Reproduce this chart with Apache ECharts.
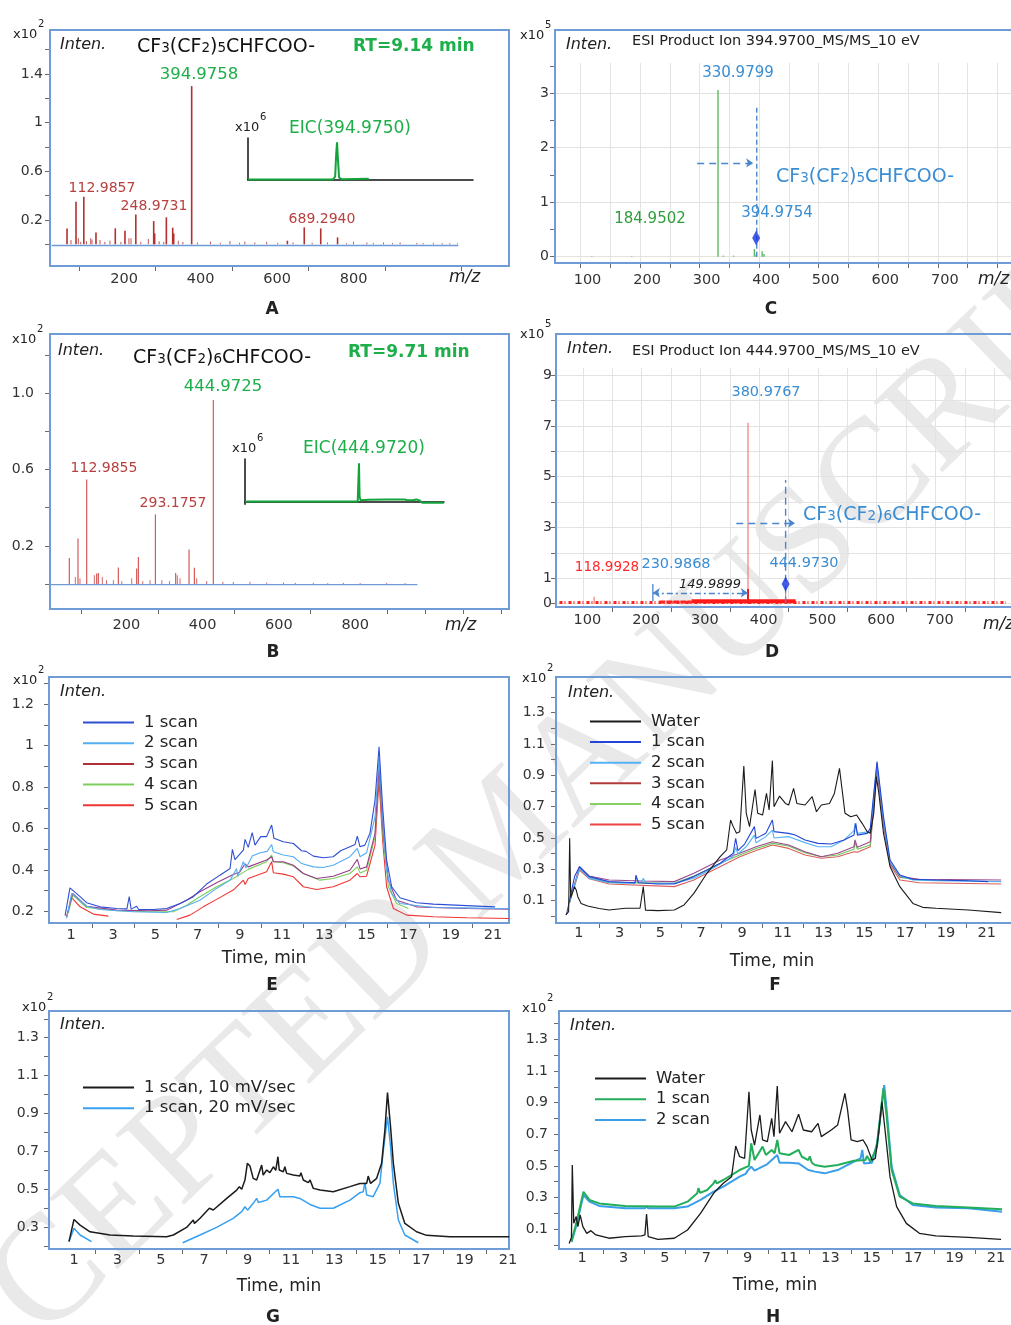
<!DOCTYPE html>
<html><head><meta charset="utf-8">
<script src="https://cdn.jsdelivr.net/npm/echarts@6/dist/echarts.min.js"></script>
<style>html,body{margin:0;padding:0;background:#fff}#c{width:1011px;height:1325px}</style>
</head><body><div id="c"></div>
<script>
// ---------------- DATA ----------------
// Panel A (MS spectrum, RT 9.14)
const aPeakMz  = [69.1, 92.6, 112.99, 144.8, 195.3, 220.6, 248.97, 295.7, 298.2, 328.8, 345.4, 348.0, 394.98, 645.2, 689.29, 732.4, 776.4];
const aPeakInt = [0.131, 0.35, 0.391, 0.098, 0.131, 0.112, 0.246, 0.191, 0.09, 0.222, 0.137, 0.09, 1.30, 0.03, 0.139, 0.131, 0.057];
const aNoiseMz  = [79.5, 98.7, 105, 120, 131, 134.4, 155.3, 168, 181.4, 210, 231, 236.4, 262, 281.6, 310, 322, 360, 372, 410, 444.2, 470, 495, 520, 534, 560, 591, 620, 660, 710, 750, 800, 818, 853, 870, 896.5, 920, 940, 983.7, 1000, 1027, 1050, 1070, 1090];
const aNoiseInt = [0.035, 0.05, 0.02, 0.025, 0.05, 0.04, 0.035, 0.02, 0.03, 0.02, 0.05, 0.05, 0.02, 0.044, 0.025, 0.02, 0.03, 0.02, 0.015, 0.022, 0.012, 0.027, 0.012, 0.022, 0.015, 0.02, 0.012, 0.015, 0.012, 0.015, 0.01, 0.02, 0.015, 0.012, 0.015, 0.01, 0.015, 0.012, 0.01, 0.012, 0.01, 0.01, 0.008];
const aBaseMz = [29, 1092];
const aBaseInt = [-0.009, -0.009];
const aEicTime = [0, 8.7, 8.95, 9.05, 9.14, 9.22, 9.35, 9.6, 12.4];
const aEicInt  = [0.01, 0.01, 0.08, 0.6, 0.9, 0.55, 0.06, 0.02, 0.03];
const aXTicks = [100, 300, 500, 700, 900, 1100];
const aXLabels = [200, 400, 600, 800];
const aYTicks = [0, 0.2, 0.4, 0.6, 0.8, 1, 1.2, 1.4, 1.6];
const aYLabels = [0.2, 0.6, 1, 1.4];

// Panel B (MS spectrum, RT 9.71)
const bPeakMz  = [67.5, 90.2, 112.99, 139.2, 143.5, 196, 244, 248.5, 293.18, 346.3, 381.3, 395.3, 444.97];
const bPeakInt = [0.137, 0.239, 0.548, 0.055, 0.058, 0.086, 0.081, 0.142, 0.365, 0.058, 0.181, 0.085, 0.965];
const bNoiseMz  = [83.2, 95.4, 133.1, 154, 165, 183, 205, 231, 260, 279, 310, 330, 350.7, 357.7, 401.4, 427.6, 470, 497.5, 541, 585, 629, 660, 707.3, 745, 786, 830, 899.6, 947.7];
const bNoiseInt = [0.037, 0.03, 0.046, 0.037, 0.02, 0.02, 0.015, 0.03, 0.015, 0.02, 0.02, 0.015, 0.046, 0.03, 0.03, 0.016, 0.012, 0.011, 0.012, 0.008, 0.008, 0.006, 0.006, 0.005, 0.006, 0.005, 0.006, 0.005];
const bBaseMz = [17, 980];
const bBaseInt = [-0.003, -0.003];
const bEicTime = [0, 9.6, 9.66, 9.71, 9.76, 9.85, 10.5, 12.0, 13.6, 13.8, 14.3, 14.6, 14.9, 15.1, 16.95];
const bEicInt  = [0.01, 0.01, 0.5, 0.9, 0.12, 0.04, 0.05, 0.06, 0.06, 0.04, 0.04, 0.06, 0.03, -0.02, -0.02];
const bXTicks = [100, 300, 500, 700, 900, 1000, 1100, 1200];
const bXLabels = [200, 400, 600, 800];
const bYTicks = [0, 0.2, 0.4, 0.6, 0.8, 1.0, 1.2];
const bYLabels = [0.2, 0.6, 1.0];

// Panel C (product ion 394.97)
const cPeakMz  = [119, 186, 330.98, 340, 357, 392, 395, 405, 408];
const cPeakInt = [0.01, 0.01, 3.06, 0.02, 0.02, 0.14, 0.05, 0.1, 0.05];
const cPrecursor = [[394.98, 0.343]];
const cGuide = [[396, 0], [396, 2.76]];
const cArrow = [[296, 1.72], [389.8, 1.72]];
const cXTicks = [100,150,200,250,300,350,400,450,500,550,600,650,700,750,800];
const cXLabels = [100, 200, 300, 400, 500, 600, 700];
const cYTicks = [0, 0.5, 1, 1.5, 2, 2.5, 3, 3.5];
const cYGrid = [0, 1, 2, 3];
const cYLabels = [0, 1, 2, 3];

// Panel D (product ion 444.97)
const dPeakMz  = [118.99, 380.98, 444.97];
const dPeakInt = [0.27, 7.12, 0.45];
const dBaseStickMz = [380.98];
const dBaseStickInt = [0.58];
const dNoise = [[60, 0.05], [820, 0.05]];
const dNoiseDense = [[230, 0.07], [285, 0.07]];
const dBand = [[285, 0.1], [462, 0.1]];
const dPrecursor = [[444.97, 0.78]];
const dGuide = [[445, 0], [445, 4.87]];
const dArrow = [[361, 3.17], [461, 3.17]];
const dLoss = [[219, 0.43], [380.5, 0.43]];
const dLossTick = [[219, 0.1], [219, 0.78]];
const dXTicks = [150, 250, 350, 450, 550, 650, 750];
const dXGrid = [100,150,200,250,300,350,400,450,500,550,600,650,700,750,800];
const dXLabels = [100, 200, 300, 400, 500, 600, 700];
const dYTicks = [0,1,2,3,4,5,6,7,8,9];
const dYLabels = [0, 1, 3, 5, 7, 9];

// Time axes (E-H)
const timeTicks = [2,4,6,8,10,12,14,16,18,20];
const timeLabels = [1,3,5,7,9,11,13,15,17,19,21];

// Panel E
const eScan1 = [[0.72,0.18],[0.95,0.314],[1.43,0.271],[1.74,0.242],[2.37,0.222],[3.16,0.214],[3.65,0.212],[3.76,0.271],[3.85,0.211],[4.11,0.225],[4.2,0.21],[4.9,0.209],[5.53,0.214],[6.17,0.238],[6.8,0.271],[7.43,0.332],[8.06,0.375],[8.54,0.407],[8.65,0.5],[8.77,0.45],[9.17,0.496],[9.25,0.548],[9.4,0.509],[9.59,0.58],[9.72,0.52],[9.99,0.561],[10.27,0.561],[10.51,0.617],[10.62,0.553],[11.06,0.536],[11.54,0.528],[11.93,0.493],[12.14,0.49],[12.49,0.467],[12.96,0.459],[13.43,0.464],[13.78,0.493],[14.22,0.512],[14.46,0.523],[14.57,0.564],[14.7,0.512],[14.93,0.52],[15.17,0.577],[15.41,0.738],[15.6,0.995],[15.77,0.705],[15.96,0.448],[16.2,0.319],[16.59,0.266],[17.38,0.242],[18.17,0.235],[19.75,0.228],[21.1,0.222]];
const eScan2 = [[0.79,0.166],[1.03,0.287],[1.74,0.225],[2.37,0.209],[3.95,0.198],[5.53,0.195],[6.17,0.214],[7.11,0.254],[7.9,0.311],[8.54,0.351],[8.85,0.407],[8.9,0.37],[9.17,0.44],[9.3,0.41],[9.59,0.467],[9.96,0.483],[10.3,0.49],[10.51,0.523],[10.59,0.488],[11.06,0.472],[11.54,0.464],[11.93,0.431],[12.49,0.415],[12.96,0.412],[13.43,0.423],[14.22,0.464],[14.57,0.504],[14.7,0.464],[15.01,0.483],[15.41,0.657],[15.6,0.939],[15.77,0.657],[15.96,0.399],[16.2,0.287],[16.59,0.238],[18.17,0.219],[19.75,0.217],[21.77,0.213]];
const eScan3 = [[0.79,0.174],[1.08,0.287],[1.74,0.225],[3.16,0.206],[4.74,0.203],[5.53,0.206],[6.48,0.254],[7.11,0.295],[7.9,0.338],[8.69,0.378],[9.0,0.39],[9.25,0.43],[9.4,0.415],[10.27,0.448],[10.51,0.464],[10.59,0.44],[11.06,0.44],[11.54,0.423],[12.01,0.383],[12.64,0.359],[13.43,0.37],[14.22,0.399],[14.57,0.451],[14.7,0.405],[15.01,0.415],[15.41,0.577],[15.6,0.899],[15.8,0.577],[16.04,0.351],[16.43,0.254],[17.38,0.222],[19.75,0.214],[21.77,0.211]];
const eScan4 = [[0.87,0.19],[1.08,0.279],[1.74,0.219],[3.16,0.203],[4.74,0.198],[5.85,0.198],[6.48,0.23],[7.11,0.271],[7.9,0.319],[8.69,0.359],[9.4,0.403],[10.27,0.44],[10.51,0.472],[10.59,0.44],[11.06,0.435],[11.54,0.419],[12.01,0.383],[12.8,0.351],[13.43,0.359],[14.22,0.383],[14.57,0.415],[14.7,0.386],[15.01,0.399],[15.41,0.56],[15.6,0.899],[15.8,0.544],[16.04,0.319],[16.43,0.238],[16.99,0.214]];
const eScan5 = [[0.79,0.174],[1.03,0.267],[1.43,0.222],[2.06,0.187],[2.77,0.177],[4.4,'-'],[6.01,0.161],[6.64,0.182],[7.27,0.222],[7.9,0.258],[8.69,0.303],[9.17,0.351],[9.25,0.33],[9.4,0.359],[10.27,0.391],[10.51,0.44],[10.59,0.387],[11.06,0.38],[11.54,0.367],[12.01,0.319],[12.64,0.306],[13.43,0.319],[14.22,0.351],[14.57,0.383],[14.7,0.367],[15.01,0.37],[15.41,0.52],[15.6,0.834],[15.77,0.544],[15.96,0.319],[16.28,0.214],[16.91,0.182],[18.17,0.174],[19.75,0.169],[21.77,0.166]];
const eYTicks = [0.2,0.3,0.4,0.5,0.6,0.7,0.8,0.9,1.0,1.1,1.2,1.3];
const eYLabels = [0.2, 0.4, 0.6, 0.8, 1, 1.2];

// Panel F
const fWater = [[0.36,0.01],[0.5,0.03],[0.55,0.498],[0.6,0.12],[0.79,0.19],[0.87,0.169],[0.95,0.126],[1.11,0.083],[1.43,0.066],[2.0,0.051],[2.48,0.041],[3.28,0.052],[4.0,0.052],[4.08,0.06],[4.16,0.19],[4.27,0.04],[4.88,0.037],[5.68,0.041],[6.16,0.073],[6.64,0.147],[7.28,0.275],[7.93,0.381],[8.25,0.424],[8.44,0.615],[8.57,0.573],[8.73,0.53],[8.89,0.54],[9.09,0.959],[9.21,0.658],[9.37,0.573],[9.64,0.81],[9.77,0.658],[10.01,0.647],[10.2,0.785],[10.33,0.679],[10.49,0.994],[10.57,0.7],[10.84,0.768],[11.13,0.721],[11.29,0.711],[11.53,0.817],[11.69,0.721],[12.09,0.711],[12.44,0.764],[12.65,0.668],[12.89,0.711],[13.29,0.721],[13.53,0.785],[13.78,0.945],[13.89,0.828],[14.05,0.658],[14.33,0.636],[14.62,0.647],[14.89,0.594],[15.14,0.54],[15.29,0.53],[15.46,0.658],[15.59,0.892],[15.71,0.785],[15.94,0.53],[16.26,0.317],[16.74,0.19],[17.38,0.083],[17.86,0.058],[18.5,0.052],[20.1,0.041],[21.71,0.024]];
const fScan1 = [[0.39,0.009],[0.55,0.105],[0.79,0.254],[1.03,0.317],[1.51,0.254],[2.48,0.222],[3.76,0.215],[3.8,0.264],[3.92,0.215],[4.88,0.207],[5.68,0.207],[6.64,0.254],[7.28,0.296],[7.93,0.339],[8.57,0.403],[8.69,0.498],[8.8,0.42],[9.13,0.462],[9.21,0.471],[9.61,0.573],[9.69,0.498],[10.17,0.53],[10.49,0.615],[10.57,0.541],[11.29,0.53],[11.61,0.519],[12.09,0.488],[12.73,0.466],[13.37,0.462],[14.01,0.488],[14.49,0.519],[14.58,0.594],[14.66,0.519],[15.14,0.53],[15.29,0.562],[15.62,0.988],[15.94,0.636],[16.26,0.36],[16.74,0.264],[17.38,0.237],[18.5,0.232],[20.1,0.228],[21.07,0.222]];
const fScan2 = [[0.55,0.094],[1.03,0.307],[1.51,0.243],[2.48,0.215],[3.76,0.21],[3.8,0.254],[3.92,0.215],[4.08,0.22],[4.16,0.243],[4.3,0.212],[4.88,0.211],[5.68,0.211],[6.64,0.243],[7.28,0.286],[7.93,0.334],[8.57,0.381],[8.69,0.44],[8.8,0.4],[9.21,0.445],[9.61,0.519],[9.69,0.47],[10.17,0.509],[10.49,0.551],[10.57,0.5],[11.29,0.509],[12.09,0.471],[12.73,0.445],[13.37,0.445],[14.01,0.488],[14.49,0.547],[14.54,0.594],[14.66,0.53],[15.29,0.541],[15.62,0.977],[15.94,0.615],[16.26,0.349],[16.74,0.258],[17.38,0.232],[18.5,0.228],[21.71,0.222]];
const fScan3 = [[0.55,0.094],[1.03,0.317],[1.51,0.258],[2.48,0.232],[4.08,0.226],[5.68,0.222],[6.64,0.275],[7.28,0.317],[7.93,0.36],[8.89,0.403],[9.69,0.445],[10.49,0.477],[11.29,0.456],[12.09,0.413],[12.89,0.381],[13.69,0.403],[14.49,0.445],[14.54,0.488],[14.66,0.441],[15.29,0.477],[15.62,0.956],[15.94,0.594],[16.26,0.339],[16.74,0.254],[17.7,0.237],[21.71,0.232]];
const fScan4 = [[0.55,0.09],[1.03,0.307],[1.51,0.25],[2.48,0.217],[5.68,0.211],[6.64,0.258],[7.28,0.296],[8.09,0.349],[8.89,0.392],[9.69,0.434],[10.49,0.466],[11.29,0.449],[12.09,0.407],[12.89,0.381],[13.69,0.392],[14.49,0.428],[14.54,0.471],[14.66,0.428],[15.29,0.456],[15.62,0.956],[15.94,0.594],[16.26,0.339],[16.74,0.249],[17.7,0.232],[20.1,0.228]];
const fScan5 = [[0.55,0.09],[1.03,0.296],[1.51,0.24],[2.48,0.207],[5.68,0.19],[6.64,0.232],[7.28,0.275],[8.09,0.328],[8.89,0.381],[9.69,0.42],[10.49,0.456],[11.29,0.434],[12.09,0.392],[12.89,0.371],[13.69,0.381],[14.49,0.413],[14.66,0.41],[15.29,0.445],[15.62,0.945],[15.94,0.583],[16.26,0.328],[16.74,0.232],[17.7,0.215],[21.71,0.207]];
const fYTicks = [0,0.1,0.2,0.3,0.4,0.5,0.6,0.7,0.8,0.9,1.0,1.1,1.2,1.3,1.4];
const fYLabels = [0.1, 0.3, 0.5, 0.7, 0.9, 1.1, 1.3];

// Panel G
const gSlow = [[0.77,0.224],[1.0,0.341],[1.28,0.311],[1.74,0.276],[2.66,0.259],[3.73,0.253],[5.27,0.25],[5.58,0.259],[6.19,0.299],[6.5,0.338],[6.55,0.32],[6.81,0.347],[7.24,0.4],[7.42,0.391],[8.04,0.452],[8.5,0.496],[8.62,0.514],[8.73,0.5],[8.88,0.549],[8.99,0.637],[9.11,0.623],[9.26,0.558],[9.42,0.549],[9.65,0.628],[9.72,0.575],[9.88,0.602],[10.03,0.588],[10.19,0.619],[10.3,0.6],[10.4,0.672],[10.46,0.602],[10.65,0.593],[10.72,0.619],[10.8,0.584],[11.11,0.575],[11.41,0.57],[11.46,0.588],[11.57,0.549],[11.8,0.535],[11.88,0.549],[12.03,0.505],[12.34,0.496],[12.95,0.487],[13.72,0.514],[14.18,0.531],[14.49,0.531],[14.56,0.57],[14.67,0.531],[14.95,0.558],[15.18,0.637],[15.33,0.813],[15.45,1.01],[15.59,0.831],[15.72,0.637],[15.95,0.426],[16.25,0.32],[16.79,0.276],[17.25,0.257],[18.33,0.25],[21.06,0.25]];
const gFast = [[0.77,0.224],[1.0,0.294],[1.28,0.259],[1.81,0.224],[3.9,'-'],[6.01,0.218],[6.81,0.259],[7.57,0.299],[8.34,0.347],[8.73,0.382],[8.88,0.408],[9.0,0.39],[9.26,0.426],[9.42,0.452],[9.5,0.43],[9.88,0.443],[10.4,0.5],[10.49,0.461],[11.11,0.461],[11.41,0.452],[11.88,0.42],[12.34,0.4],[12.95,0.4],[13.72,0.443],[14.18,0.482],[14.33,0.487],[14.41,0.535],[14.49,0.47],[14.79,0.461],[15.1,0.531],[15.26,0.707],[15.45,0.883],[15.59,0.725],[15.72,0.531],[15.95,0.338],[16.25,0.259],[16.87,0.218]];
const gYTicks = [0.2,0.3,0.4,0.5,0.6,0.7,0.8,0.9,1.0,1.1,1.2,1.3,1.4];
const gYLabels = [0.3, 0.5, 0.7, 0.9, 1.1, 1.3];

// Panel H
const hWater = [[0.37,0.01],[0.48,0.05],[0.52,0.506],[0.59,0.138],[0.71,0.18],[0.79,0.116],[0.9,0.19],[1.03,0.116],[1.22,0.074],[1.42,0.091],[1.66,0.064],[2.29,0.043],[3.08,0.053],[3.87,0.058],[4.03,0.064],[4.11,0.196],[4.19,0.053],[4.66,0.036],[5.45,0.043],[6.09,0.095],[6.72,0.2],[7.35,0.327],[7.82,0.39],[8.22,0.432],[8.42,0.626],[8.61,0.558],[8.85,0.548],[9.06,0.969],[9.17,0.727],[9.33,0.632],[9.59,0.822],[9.72,0.664],[9.95,0.653],[10.16,0.8],[10.27,0.685],[10.43,1.005],[10.54,0.706],[10.83,0.78],[11.14,0.716],[11.46,0.827],[11.69,0.727],[12.09,0.716],[12.4,0.769],[12.56,0.685],[13.04,0.727],[13.35,0.759],[13.7,0.959],[13.83,0.853],[14.0,0.664],[14.3,0.653],[14.58,0.664],[14.77,0.622],[15.01,0.537],[15.17,0.548],[15.33,0.706],[15.49,0.906],[15.64,0.727],[15.88,0.432],[16.2,0.243],[16.67,0.137],[17.3,0.074],[18.09,0.058],[19.67,0.049],[21.25,0.036]];
const hScan1 = [[0.48,0.022],[0.71,0.137],[1.06,0.337],[1.35,0.285],[1.82,0.263],[3.08,0.247],[4.66,0.243],[5.45,0.243],[6.09,0.274],[6.56,0.327],[6.62,0.36],[6.7,0.33],[7.04,0.348],[7.35,0.39],[7.43,0.41],[7.5,0.39],[7.82,0.411],[8.61,0.474],[9.06,0.5],[9.17,0.643],[9.33,0.537],[9.72,0.622],[9.88,0.569],[10.16,0.601],[10.3,0.58],[10.43,0.664],[10.54,0.58],[11.0,0.569],[11.46,0.601],[11.62,0.558],[11.93,0.537],[12.0,0.56],[12.1,0.52],[12.25,0.506],[12.72,0.495],[13.35,0.506],[14.14,0.533],[14.69,0.537],[14.77,0.563],[14.93,0.527],[15.25,0.622],[15.56,0.99],[15.72,0.811],[15.96,0.474],[16.35,0.306],[16.98,0.263],[18.09,0.247],[19.67,0.238],[21.3,0.226]];
const hScan2 = [[0.48,0.02],[0.71,0.12],[1.06,0.316],[1.35,0.274],[1.82,0.247],[3.08,0.232],[4.03,0.232],[4.11,0.247],[4.19,0.232],[5.45,0.232],[6.09,0.243],[6.72,0.285],[7.35,0.337],[7.82,0.369],[8.61,0.432],[8.9,0.45],[9.0,0.47],[9.17,0.495],[9.33,0.47],[9.95,0.512],[10.43,0.569],[10.54,0.52],[11.0,0.52],[11.46,0.516],[11.93,0.474],[12.25,0.464],[12.72,0.453],[13.35,0.474],[14.14,0.527],[14.46,0.548],[14.54,0.601],[14.62,0.516],[15.01,0.52],[15.25,0.643],[15.6,1.011],[15.72,0.853],[15.96,0.495],[16.35,0.316],[16.98,0.253],[18.09,0.238],[19.67,0.232],[21.3,0.211]];
const hYTicks = [0,0.1,0.2,0.3,0.4,0.5,0.6,0.7,0.8,0.9,1.0,1.1,1.2,1.3,1.4];
const hYLabels = [0.1, 0.3, 0.5, 0.7, 0.9, 1.1, 1.3];

// ---------------- HELPERS ----------------
const FONT = '"DejaVu Sans", Verdana, sans-serif';
const FRAME = '#6F9BD6';
const TICK = '#6a6a6a';
const GREEN = '#1DAF4A';
const BLUE_T = '#3A8DD3';
function zip(xs, ys) { return xs.map((x, i) => [x, ys[i]]); }

function mainX(gi, min, max, ticks, labels, pad, margin) {
  return { type: 'value', gridIndex: gi, min, max, position: 'bottom',
    axisLine: { show: false, onZero: false }, splitLine: { show: false },
    axisTick: { show: true, length: 5, lineStyle: { color: TICK }, customValues: ticks },
    axisLabel: { show: true, customValues: labels, margin, padding: [0, 0, 0, pad], fontSize: 14.5, color: '#333', fontFamily: FONT } };
}
function mainY(gi, min, max, ticks, labels, margin, fmt) {
  return { type: 'value', gridIndex: gi, min, max, position: 'left',
    axisLine: { show: false, onZero: false }, splitLine: { show: false },
    axisTick: { show: true, length: 5, lineStyle: { color: TICK }, customValues: ticks },
    axisLabel: { show: true, customValues: labels, margin, fontSize: 14, color: '#333', fontFamily: FONT, formatter: fmt } };
}
function gridAxis(gi, min, max, vals, pos) {
  return { type: 'value', gridIndex: gi, min, max, position: pos,
    axisLine: { show: false, onZero: false }, axisLabel: { show: false },
    axisTick: { show: false, customValues: vals },
    splitLine: { show: true, lineStyle: { color: '#E3E3E3', width: 1 } } };
}
function insetAxis(gi, min, max) {
  return { type: 'value', gridIndex: gi, min, max,
    axisLine: { show: true, lineStyle: { color: '#111', width: 1.5 } },
    axisTick: { show: false }, axisLabel: { show: false }, splitLine: { show: false } };
}
function sticks(xi, yi, data, color, width) {
  return { type: 'custom', xAxisIndex: xi, yAxisIndex: yi, data, silent: true, clip: true,
    encode: { x: 0, y: 1 },
    renderItem: function (params, api) {
      const x = api.value(0), h = api.value(1);
      const p0 = api.coord([x, 0]), p1 = api.coord([x, h]);
      return { type: 'line', shape: { x1: p0[0], y1: p0[1], x2: p1[0], y2: p1[1] },
        style: { stroke: color, lineWidth: width } };
    } };
}
function line(name, xi, yi, data, color, width, type) {
  return { type: 'line', name, xAxisIndex: xi, yAxisIndex: yi, data, symbol: 'none', showSymbol: false,
    silent: true, clip: true, connectNulls: false, smooth: false,
    lineStyle: { color, width, type: type || 'solid' }, itemStyle: { color } };
}
function arrow(xi, yi, coords, color, symbols, dash) {
  return { type: 'lines', coordinateSystem: 'cartesian2d', xAxisIndex: xi, yAxisIndex: yi, silent: true,
    data: [{ coords }], symbol: symbols, symbolSize: 7,
    lineStyle: { color, width: 1.3, type: dash, opacity: 1 } };
}
function T(x, y, text, size, o) {
  o = o || {};
  const font = (o.italic ? 'italic ' : '') + (o.bold ? 'bold ' : '') + size + 'px ' + (o.family || FONT);
  const st = { text, font, fill: o.color || '#222', textAlign: o.align || 'left', align: o.align || 'left',
    textVerticalAlign: 'middle', verticalAlign: 'middle' };
  if (o.rich) st.rich = o.rich;
  return { type: 'text', x, y, silent: true, z: 20, rotation: o.rot || 0, style: st };
}
function formula(x, y, n, color) {
  const sub = { fontSize: 13.5, fontFamily: FONT, fill: color, verticalAlign: 'bottom', padding: [0, 0, 1, 0] };
  return T(x, y, 'CF{s|3}(CF{s|2}){s|' + n + '}CHFCOO-', 19, { color, rich: { s: sub } });
}
function frame(x, y, w, h) {
  return { type: 'rect', silent: true, z: 1, shape: { x, y, width: w, height: h },
    style: { fill: 'none', stroke: FRAME, lineWidth: 2 } };
}
function exp(x, y, e) {
  return [T(x, y, 'x10', 13, { color: '#222' }), T(x + 25, y - 11, e, 10, { color: '#222' })];
}

// ---------------- OPTION ----------------
const grids = [
  { left: 50, top: 30, width: 459, height: 236 },     // 0 A
  { left: 248, top: 138, width: 225, height: 42 },    // 1 A inset
  { left: 50, top: 334, width: 459, height: 275 },    // 2 B
  { left: 245, top: 459, width: 199, height: 45.15 }, // 3 B inset
  { left: 555, top: 63, width: 465, height: 200 },    // 4 C
  { left: 556, top: 368, width: 464, height: 239 },   // 5 D
  { left: 49, top: 677, width: 460, height: 246 },    // 6 E
  { left: 556, top: 677, width: 464, height: 246 },   // 7 F
  { left: 49, top: 1011, width: 460, height: 238 },   // 8 G
  { left: 559, top: 1011, width: 461, height: 238 }   // 9 H
];

const xAxes = [
  mainX(0, 24.6, 1224.6, aXTicks, aXLabels, 14, 6),      // 0
  insetAxis(1, 0, 23.1),                                 // 1
  mainX(2, 16.8, 1220.2, bXTicks, bXLabels, 13, 9),      // 2
  insetAxis(3, 0, 16.95),                                // 3
  mainX(4, 57.2, 822.9, cXTicks, cXLabels, 14, 10),      // 4
  mainX(5, 54.1, 828.7, dXTicks, dXLabels, 9, 6),        // 5
  gridAxis(5, 54.1, 828.7, dXGrid, 'bottom'),            // 6
  mainX(6, -0.043, 21.76, timeTicks, timeLabels, 0, 5),  // 7 E
  mainX(7, -0.12, 22.19, timeTicks, timeLabels, 0, 3),   // 8 F
  mainX(8, -0.152, 21.05, timeTicks, timeLabels, 0, 4),  // 9 G
  mainX(9, -0.123, 21.73, timeTicks, timeLabels, 0, 2)   // 10 H
];
xAxes[4].splitLine = { show: true, lineStyle: { color: '#E3E3E3', width: 1 } };
const oneDec = v => Number(v).toFixed(1);
const yAxes = [
  mainY(0, -0.178, 1.761, aYTicks, aYLabels, 7),         // 0
  insetAxis(1, 0, 1),                                    // 1
  mainY(2, -0.131, 1.311, bYTicks, bYLabels, 16, oneDec),// 2
  insetAxis(3, -0.05, 1),                                // 3
  mainY(4, -0.1156, 3.554, cYTicks, cYLabels, 6),        // 4
  gridAxis(4, -0.1156, 3.554, cYGrid, 'left'),           // 5
  mainY(5, -0.13, 9.28, dYTicks, dYLabels, 4),           // 6
  mainY(6, 0.144, 1.332, eYTicks, eYLabels, 15),         // 7 E
  mainY(7, -0.042, 1.5278, fYTicks, fYLabels, 11, oneDec), // 8 F
  mainY(8, 0.185, 1.441, gYTicks, gYLabels, 10, oneDec), // 9 G
  mainY(9, -0.025, 1.479, hYTicks, hYLabels, 11, oneDec) // 10 H
];
yAxes[6].splitLine = { show: true, lineStyle: { color: '#E3E3E3', width: 1 } };

const C_E = { s1: '#2F4FD3', s2: '#55AEF2', s3: '#9A3C8C', s3leg: '#B0303A', s4: '#7CCF5A', s5: '#F03535' };
const series = [
  // A
  sticks(0, 0, zip(aNoiseMz, aNoiseInt), '#C25450', 1),
  sticks(0, 0, zip(aPeakMz, aPeakInt), '#B3302E', 1.6),
  line('A base', 0, 0, zip(aBaseMz, aBaseInt), '#6E9BD6', 1.4),
  line('A eic', 1, 1, zip(aEicTime, aEicInt), '#13A33B', 2),
  // B
  sticks(2, 2, zip(bNoiseMz, bNoiseInt), '#D46A6A', 1),
  sticks(2, 2, zip(bPeakMz, bPeakInt), '#D45A5A', 1.2),
  line('B base', 2, 2, zip(bBaseMz, bBaseInt), '#6E9BD6', 1.4),
  line('B eic', 3, 3, zip(bEicTime, bEicInt), '#13A33B', 2),
  // C
  sticks(4, 4, zip(cPeakMz, cPeakInt), '#5DBB62', 1.4),
  line('C guide', 4, 4, cGuide, '#4A86CF', 1.4, [5, 3]),
  arrow(4, 4, cArrow, '#4A86CF', ['none', 'arrow'], [7, 5]),
  { type: 'scatter', xAxisIndex: 4, yAxisIndex: 4, data: cPrecursor, symbol: 'diamond', symbolSize: [8, 15],
    itemStyle: { color: '#1533E0' }, silent: true, z: 5 },
  // D
  line('D noise', 5, 6, dNoise, '#FF2424', 3, [3, 2, 1, 3]),
  line('D noise2', 5, 6, dNoiseDense, '#FF2424', 3, [6, 1]),
  line('D band', 5, 6, dBand, '#FF1A1A', 4),
  sticks(5, 6, zip(dPeakMz, dPeakInt), '#F27C7C', 1.2),
  sticks(5, 6, zip(dBaseStickMz, dBaseStickInt), '#E42020', 2),
  line('D guide', 5, 6, dGuide, '#4A86CF', 1.4, [7, 4]),
  arrow(5, 6, dArrow, '#4A86CF', ['none', 'arrow'], [7, 5]),
  arrow(5, 6, dLoss, '#4A86CF', ['arrow', 'arrow'], [6, 3, 2, 3]),
  line('D tick', 5, 6, dLossTick, '#4A86CF', 1.3),
  { type: 'scatter', xAxisIndex: 5, yAxisIndex: 6, data: dPrecursor, symbol: 'diamond', symbolSize: [8, 15],
    itemStyle: { color: '#1533E0' }, silent: true, z: 5 },
  // E
  line('E|5 scan', 7, 7, eScan5, C_E.s5, 1.1),
  line('E|4 scan', 7, 7, eScan4, C_E.s4, 1.1),
  line('E|3 scan', 7, 7, eScan3, C_E.s3, 1.1),
  line('E|2 scan', 7, 7, eScan2, C_E.s2, 1.1),
  line('E|1 scan', 7, 7, eScan1, C_E.s1, 1.1),
  // F
  line('F|5 scan', 8, 8, fScan5, '#D9605A', 1.1),
  line('F|4 scan', 8, 8, fScan4, '#6CC659', 1.1),
  line('F|3 scan', 8, 8, fScan3, '#9B4A8E', 1.1),
  line('F|2 scan', 8, 8, fScan2, '#55B2F4', 1.1),
  line('F|1 scan', 8, 8, fScan1, '#2446D6', 1.1),
  line('F|Water', 8, 8, fWater, '#1B1B1B', 1.1),
  // G
  line('G|1 scan, 20 mV/sec', 9, 9, gFast, '#38A0F0', 1.5),
  line('G|1 scan, 10 mV/sec', 9, 9, gSlow, '#1B1B1B', 1.5),
  // H
  line('H|2 scan', 10, 10, hScan2, '#3A9EEA', 2),
  line('H|1 scan', 10, 10, hScan1, '#22AE5A', 2),
  line('H|Water', 10, 10, hWater, '#1B1B1B', 1.3)
];

function legend(left, top, gap, items) {
  return { show: true, orient: 'vertical', left, top, itemWidth: 51, itemHeight: 2, itemGap: gap,
    icon: 'rect', selectedMode: false, formatter: n => n.split('|')[1],
    textStyle: { fontSize: 16.5, color: '#222', fontFamily: FONT, padding: [0, 0, 0, 5], lineHeight: 16 },
    data: items.map(it => ({ name: it[0], icon: 'rect', itemStyle: { color: it[1] } })) };
}
const legends = [
  legend(78, 709, 3.7, [['E|1 scan', C_E.s1], ['E|2 scan', C_E.s2], ['E|3 scan', C_E.s3leg], ['E|4 scan', C_E.s4], ['E|5 scan', C_E.s5]]),
  legend(585, 708, 3.6, [['F|Water', '#1B1B1B'], ['F|1 scan', '#2446D6'], ['F|2 scan', '#55B2F4'], ['F|3 scan', '#B03A3A'], ['F|4 scan', '#86CF66'], ['F|5 scan', '#EE4444']]),
  legend(78, 1074, 3.7, [['G|1 scan, 10 mV/sec', '#1B1B1B'], ['G|1 scan, 20 mV/sec', '#38A0F0']]),
  legend(590, 1065, 3.7, [['H|Water', '#1B1B1B'], ['H|1 scan', '#22AE5A'], ['H|2 scan', '#3A9EEA']])
];

const graphics = [
  // watermark
  { type: 'text', x: 505, y: 840, rotation: 44 * Math.PI / 180, silent: true, z: -10,
    style: { text: 'ACCEPTED MANUSCRIPT', font: '150px "Liberation Serif", serif', fill: '#E9E9E9',
      textAlign: 'center', align: 'center', textVerticalAlign: 'middle', verticalAlign: 'middle' } },
  frame(50, 30, 459, 236), frame(50, 334, 459, 275), frame(555, 30, 500, 233), frame(556, 334, 500, 273),
  frame(49, 677, 460, 246), frame(556, 677, 500, 246), frame(49, 1011, 460, 238), frame(559, 1011, 500, 238),
  ...exp(13, 35, '2'), ...exp(12, 340, '2'), ...exp(520, 36, '5'), ...exp(520, 335, '5'),
  ...exp(13, 681, '2'), ...exp(522, 679, '2'), ...exp(22, 1008, '2'), ...exp(522, 1009, '2'),
  // Inten.
  T(60, 45, 'Inten.', 16, { italic: true }), T(58, 351, 'Inten.', 16, { italic: true }),
  T(566, 45, 'Inten.', 16, { italic: true }), T(567, 349, 'Inten.', 16, { italic: true }),
  T(60, 692, 'Inten.', 16, { italic: true }), T(568, 693, 'Inten.', 16, { italic: true }),
  T(60, 1025, 'Inten.', 16, { italic: true }), T(570, 1026, 'Inten.', 16, { italic: true }),
  // A texts
  formula(137, 47, '5', '#111'),
  T(353, 47, 'RT=9.14 min', 17, { bold: true, color: GREEN }),
  T(199, 75, '394.9758', 16.5, { align: 'center', color: GREEN }),
  T(102, 188, '112.9857', 14, { align: 'center', color: '#B8403E' }),
  T(154, 206, '248.9731', 14, { align: 'center', color: '#B8403E' }),
  T(322, 219, '689.2940', 14, { align: 'center', color: '#B8403E' }),
  ...exp(235, 128, '6'),
  T(289, 129, 'EIC(394.9750)', 17, { color: GREEN }),
  T(449, 278, 'm/z', 17, { italic: true }),
  T(272, 310, 'A', 17, { bold: true, align: 'center' }),
  // B texts
  formula(133, 358, '6', '#111'),
  T(348, 353, 'RT=9.71 min', 17, { bold: true, color: GREEN }),
  T(223, 387, '444.9725', 16.5, { align: 'center', color: GREEN }),
  T(104, 468, '112.9855', 14, { align: 'center', color: '#B8403E' }),
  T(173, 503, '293.1757', 14, { align: 'center', color: '#B8403E' }),
  ...exp(232, 449, '6'),
  T(303, 449, 'EIC(444.9720)', 17, { color: GREEN }),
  T(445, 626, 'm/z', 17, { italic: true }),
  T(273, 653, 'B', 17, { bold: true, align: 'center' }),
  // C texts
  T(632, 41, 'ESI Product Ion 394.9700_MS/MS_10 eV', 14.5, { color: '#222' }),
  T(738, 73, '330.9799', 15, { align: 'center', color: BLUE_T }),
  T(650, 219, '184.9502', 15, { align: 'center', color: '#2E9E3A' }),
  T(777, 213, '394.9754', 15, { align: 'center', color: BLUE_T }),
  formula(776, 177, '5', BLUE_T),
  T(978, 280, 'm/z', 17, { italic: true }),
  T(771, 310, 'C', 17, { bold: true, align: 'center' }),
  // D texts
  T(632, 351, 'ESI Product Ion 444.9700_MS/MS_10 eV', 14.5, { color: '#222' }),
  T(766, 392, '380.9767', 14.5, { align: 'center', color: BLUE_T }),
  T(607, 567, '118.9928', 13.5, { align: 'center', color: '#FF2A2A' }),
  T(676, 564, '230.9868', 14.5, { align: 'center', color: BLUE_T }),
  T(804, 563, '444.9730', 14.5, { align: 'center', color: BLUE_T }),
  T(710, 585, '149.9899', 13, { align: 'center', italic: true, color: '#222' }),
  formula(803, 515, '6', BLUE_T),
  T(983, 625, 'm/z', 17, { italic: true }),
  T(772, 653, 'D', 17, { bold: true, align: 'center' }),
  // E-H
  T(264, 959, 'Time, min', 17, { align: 'center' }),
  T(272, 986, 'E', 17, { bold: true, align: 'center' }),
  T(772, 962, 'Time, min', 17, { align: 'center' }),
  T(775, 986, 'F', 17, { bold: true, align: 'center' }),
  T(279, 1287, 'Time, min', 17, { align: 'center' }),
  T(273, 1318, 'G', 17, { bold: true, align: 'center' }),
  T(775, 1286, 'Time, min', 17, { align: 'center' }),
  T(773, 1318, 'H', 17, { bold: true, align: 'center' })
];

const option = {
  animation: false,
  backgroundColor: '#ffffff',
  textStyle: { fontFamily: FONT },
  grid: grids,
  xAxis: xAxes,
  yAxis: yAxes,
  legend: legends,
  series: series,
  graphic: { elements: graphics }
};
const chart = echarts.init(document.getElementById('c'), null, { renderer: 'canvas' });
chart.setOption(option);
</script></body></html>
